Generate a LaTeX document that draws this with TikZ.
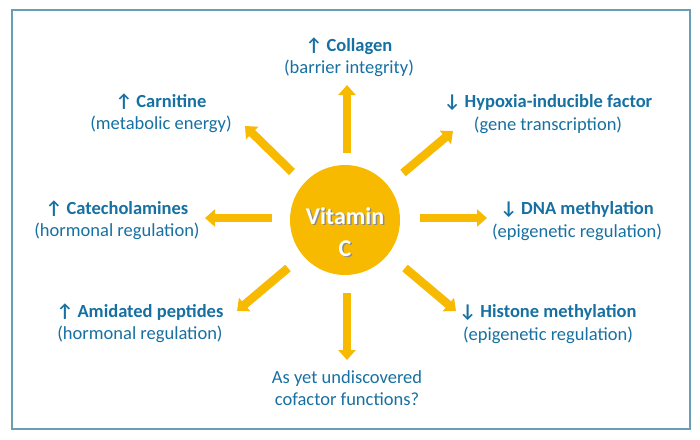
\documentclass[tikz,border=0pt]{standalone}
\usepackage{fontspec}
\setmainfont{Carlito}
\usetikzlibrary{arrows.meta}
\definecolor{sun}{RGB}{247,186,0}
\definecolor{txtblue}{RGB}{22,112,162}
\definecolor{framecol}{RGB}{105,158,182}
\begin{document}
\begin{tikzpicture}[x=1pt,y=-1pt,
  ray/.style={draw=sun, line width=8.5pt, -{Triangle[width=17pt,length=10pt]}},
  lbl/.style={align=center, text=txtblue, font=\fontsize{18.5}{22.5}\selectfont, inner sep=0pt},
  suntext/.style={align=center, font=\fontsize{24}{32}\selectfont\bfseries, inner sep=0pt}
]
\useasboundingbox (0,0) rectangle (700,439);
\draw[framecol, line width=1.5pt] (12,10) rectangle (690,429);

\node[circle, fill=sun, minimum size=110pt, inner sep=0pt] (vc) at (345,220) {};
\node[suntext, text=black!45] (vcshadow) at (346.5,233.5) {Vitamin\\C};
\node[suntext, text=white] (vctext) at (345,232) {Vitamin\\C};

% labels
\node[lbl] (collagen) at (349,57) {\textbf{↑ Collagen}\\(barrier integrity)};
\node[lbl] (carnitine) at (161,113) {\textbf{↑ Carnitine}\\(metabolic energy)};
\node[lbl] (hif) at (548,114) {\textbf{↓ Hypoxia-inducible factor}\\(gene transcription)};
\node[lbl] (cat) at (117,220) {\textbf{↑ Catecholamines}\\(hormonal regulation)};
\node[lbl] (dna) at (577,221) {\textbf{↓ DNA methylation}\\(epigenetic regulation)};
\node[lbl] (amid) at (140,323) {\textbf{↑ Amidated peptides}\\(hormonal regulation)};
\node[lbl] (hist) at (548,324) {\textbf{↓ Histone methylation}\\(epigenetic regulation)};
\node[lbl] (unk) at (347,388) {As yet undiscovered\\cofactor functions?};

% ray end points
\coordinate (upA) at (347,153);  \coordinate (upB) at (347,85);
\coordinate (ulA) at (292,172);  \coordinate (ulB) at (245,126);
\coordinate (urA) at (403,173);  \coordinate (urB) at (453,131);
\coordinate (lA) at (272,218);   \coordinate (lB) at (205,218);
\coordinate (rA) at (420,218);   \coordinate (rB) at (487,218);
\coordinate (llA) at (288,268);  \coordinate (llB) at (237,311);
\coordinate (lrA) at (405,268);  \coordinate (lrB) at (456,311);
\coordinate (dA) at (347,293);   \coordinate (dB) at (347,360);

\foreach \a/\b in {upA/upB, ulA/ulB, urA/urB, lA/lB, rA/rB, llA/llB, lrA/lrB, dA/dB}
  \draw[ray] (\a) -- (\b);
\end{tikzpicture}
\end{document}
